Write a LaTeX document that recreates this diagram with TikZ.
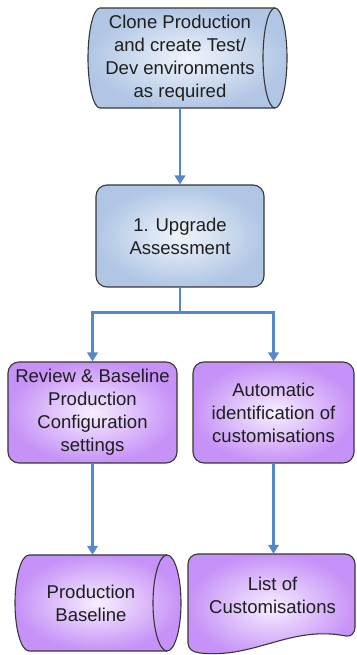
\documentclass[tikz,border=0pt]{standalone}
\usepackage{fontspec}
\setmainfont{Liberation Sans}
\usetikzlibrary{arrows.meta}

\definecolor{bluedge}{RGB}{176,198,228}
\definecolor{bluemid}{RGB}{240,244,251}
\definecolor{purpedge}{RGB}{198,146,247}
\definecolor{purpmid}{RGB}{247,238,255}
\definecolor{flow}{RGB}{84,136,200}
\definecolor{rim}{RGB}{55,55,55}
\definecolor{ink}{RGB}{30,30,30}

\begin{document}
\begin{tikzpicture}[x=1bp,y=1bp,
  lbl/.style={align=center, text=ink, inner sep=0pt,
    font=\fontsize{18.6}{23}\selectfont},
  blueshade/.style={inner color=bluemid, outer color=bluedge},
  purpshade/.style={inner color=purpmid, outer color=purpedge},
  outline/.style={draw=rim, line width=1.1bp},
  procbox/.style={lbl, outline, rounded corners=11bp,
    minimum width=#1, minimum height=101bp},
  flowline/.style={draw=flow, line width=2.3bp,
    -{Triangle[width=10.5bp,length=9bp]}}
]
\useasboundingbox (0,0) rectangle (356,655);

% --- top storage drum (light blue) ---
\path[blueshade, outline]
  (100,647) -- (275,647)
  arc[start angle=90, end angle=-90, x radius=12, y radius=50]
  -- (100,547)
  arc[start angle=270, end angle=90, x radius=12, y radius=50] -- cycle;
\draw[outline] (275,647)
  arc[start angle=90, end angle=270, x radius=12, y radius=50];
\node[lbl, minimum height=100bp] (clone) at (180,597)
  {Clone Production\\and create Test/\\Dev environments\\as required};

% --- assessment step ---
\node[procbox=168bp, blueshade, minimum height=102bp] (upg) at (180,419)
  {1. Upgrade\\Assessment};

% --- two purple process steps ---
\node[procbox=169bp, purpshade] (rev) at (92.5,242.5)
  {Review \& Baseline\\Production\\Configuration\\settings};
\node[procbox=161bp, purpshade] (auto) at (273.5,242.5)
  {Automatic\\identification of\\customisations};

% --- bottom-left storage drum (purple) ---
\path[purpshade, outline]
  (29,100) -- (167,100)
  arc[start angle=90, end angle=-90, x radius=14, y radius=48]
  -- (29,4)
  arc[start angle=270, end angle=90, x radius=14, y radius=48] -- cycle;
\draw[outline] (167,100)
  arc[start angle=90, end angle=270, x radius=14, y radius=48];
\node[lbl, minimum height=96bp] (prod) at (91,52) {Production\\Baseline};

% --- bottom-right document (purple) ---
\path[purpshade, outline]
  (198,101) -- (345,101)
  arc[start angle=90, end angle=0, radius=10]
  -- (355,28)
  .. controls (355,22) and (351,18) .. (346,19)
  .. controls (290,30) and (255,-4) .. (200,2)
  .. controls (193,2.8) and (188,6) .. (188,12)
  -- (188,91)
  arc[start angle=180, end angle=90, radius=10] -- cycle;
\node[lbl, minimum height=82bp] (list) at (272.5,60) {List of\\Customisations};

% --- connectors ---
\draw[flowline] (clone.south) -- (upg.north);
\draw[flowline] (upg.south) -- ++(0,-25) -| (rev.north);
\draw[flowline] (upg.south) -- ++(0,-25) -| (auto.north);
\draw[flowline] (rev.south) -- (rev.south |- prod.north);
\draw[flowline] (auto.south) -- (auto.south |- list.north);
\end{tikzpicture}
\end{document}
